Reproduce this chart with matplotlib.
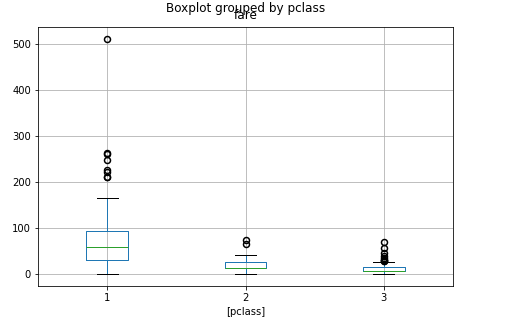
import matplotlib
matplotlib.use("Agg")
import matplotlib.pyplot as plt

# fare summary per passenger class
classes = ["1", "2", "3"]
q1 = [30.92, 13.0, 7.75]
med = [60.29, 14.25, 8.05]
q3 = [93.5, 26.0, 15.5]
whislo = [0.0, 0.0, 0.0]
whishi = [164.87, 41.58, 26.55]
fliers = [
    [211.34, 211.5, 221.78, 227.53, 247.52, 262.38, 263.0, 512.33],
    [65.0, 73.5],
    [27.9, 29.13, 31.28, 31.39, 34.38, 39.69, 46.9, 56.5, 69.55],
]

stats = []
for i in range(len(classes)):
    stats.append({"label": classes[i], "q1": q1[i], "med": med[i], "q3": q3[i],
                  "whislo": whislo[i], "whishi": whishi[i], "fliers": fliers[i]})

fig = plt.figure(figsize=(525 / 72, 334 / 72), dpi=72)
ax = fig.add_axes([0.0724, 0.1437, 0.7905, 0.7754])
ax.bxp(stats,
       boxprops=dict(color="#1f77b4"),
       whiskerprops=dict(color="#1f77b4"),
       medianprops=dict(color="#2ca02c"),
       capprops=dict(color="black"),
       flierprops=dict(markeredgecolor="black", markerfacecolor="none",
                       markeredgewidth=1.5))
ax.grid(True, color="#b0b0b0")
ax.set_axisbelow(True)
ax.set_title("fare", pad=8)
ax.set_xlabel("[pclass]")
fig.suptitle("Boxplot grouped by pclass", x=0.468, y=0.995)
fig.savefig("out.png", dpi=72)
